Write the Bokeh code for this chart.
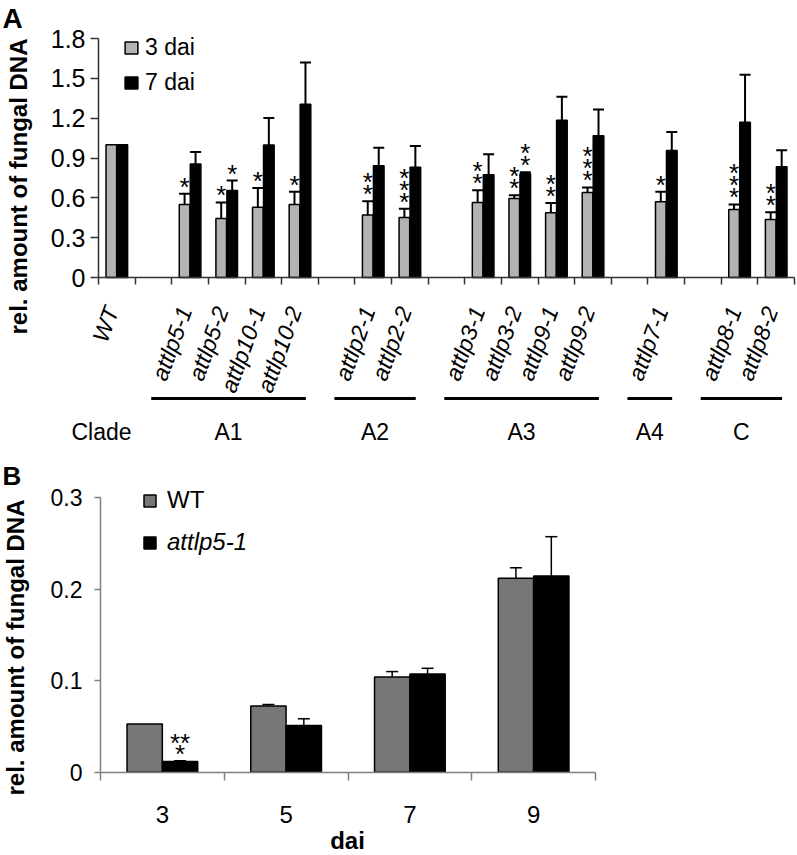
from bokeh.plotting import figure
from bokeh.models import (Range1d, FixedTicker, NumeralTickFormatter, ColumnDataSource,
                          LabelSet, Label, Whisker, TeeHead, Legend, LegendItem)
from bokeh.core.properties import value
from bokeh.layouts import column
from bokeh.embed import file_html
from bokeh.resources import INLINE

FONT = "Liberation Sans"

# ---------------- Panel A data ----------------
strains = ["WT", "attlp5-1", "attlp5-2", "attlp10-1", "attlp10-2", "attlp2-1", "attlp2-2",
           "attlp3-1", "attlp3-2", "attlp9-1", "attlp9-2", "attlp7-1", "attlp8-1", "attlp8-2"]
clade_names = ["A1", "A2", "A3", "A4", "C"]
clade_sizes = [4, 2, 4, 1, 2]
dai3 = [1.00, 0.550, 0.445, 0.530, 0.550, 0.470, 0.452, 0.565, 0.595, 0.487, 0.640, 0.570, 0.512, 0.437]
dai3_err = [0.0, 0.080, 0.120, 0.145, 0.095, 0.105, 0.065, 0.093, 0.025, 0.075, 0.038, 0.075, 0.038, 0.055]
dai7 = [1.00, 0.855, 0.655, 0.997, 1.305, 0.842, 0.830, 0.773, 0.781, 1.185, 1.067, 0.957, 1.170, 0.834]
dai7_err = [0.0, 0.090, 0.075, 0.205, 0.315, 0.135, 0.160, 0.156, 0.012, 0.176, 0.198, 0.138, 0.357, 0.125]
stars3 = [0, 1, 1, 1, 1, 2, 3, 2, 2, 2, 3, 1, 3, 2]
stars7 = [0, 0, 1, 0, 0, 0, 0, 0, 2, 0, 0, 0, 0, 0]
yticks_a = [0, 0.3, 0.6, 0.9, 1.2, 1.5, 1.8]

# ---------------- Panel B data ----------------
days = [3, 5, 7, 9]
wt_b = [0.0528, 0.0723, 0.1040, 0.2120]
wt_b_err = [0.0, 0.0017, 0.0060, 0.0115]
mut_b = [0.0118, 0.0511, 0.1073, 0.2145]
mut_b_err = [0.0008, 0.0073, 0.0063, 0.0430]
stars_b = [3, 0, 0, 0]
yticks_b = [0, 0.1, 0.2, 0.3]

GREY_A = "#b3b3b3"
GREY_B = "#777777"
AXIS_A = "#333333"
AXIS_B = "#808080"
FV = value(FONT)

# slot layout for panel A: WT, then a gap before each clade
slots = [0]
pos = 1
groups = []
for name, n in zip(clade_names, clade_sizes):
    pos += 1
    first = pos
    for k in range(n):
        slots.append(pos)
        pos += 1
    groups.append((name, first, pos - 1))
n_slots = pos
centers = [s + 0.5 for s in slots]

W = 797
HA, HB = 458, 397

# ---- geometry of panel A (frame = whole canvas, axes at fixed locations)
XA0 = 98.0                      # pixel of x = 0
SA = 696.0 / n_slots            # pixels per slot
YA0 = 277.0                     # pixel of y = 0
KA = 239.0 / yticks_a[-1]       # pixels per unit
def ax(px): return (px - XA0) / SA
def ay(py): return (YA0 - py) / KA

pa = figure(width=W, height=HA, x_range=Range1d(ax(0), ax(W)), y_range=Range1d(ay(HA), ay(0)),
            output_backend="svg", toolbar_location=None, title=None,
            min_border_left=0, min_border_right=0, min_border_top=0, min_border_bottom=0)
pa.outline_line_color = None
pa.xgrid.visible = False
pa.ygrid.visible = False

OFF_A, BW_A = 0.15, 0.29
src3 = ColumnDataSource(dict(x=[c - OFF_A for c in centers], top=dai3))
src7 = ColumnDataSource(dict(x=[c + OFF_A for c in centers], top=dai7))
r3 = pa.vbar(x="x", top="top", bottom=0, width=BW_A, source=src3,
             fill_color=GREY_A, line_color="black", line_width=1.5)
r7 = pa.vbar(x="x", top="top", bottom=0, width=BW_A, source=src7,
             fill_color="black", line_color="black", line_width=1.5)

for vals, errs, off in ((dai3, dai3_err, -OFF_A), (dai7, dai7_err, OFF_A)):
    b, lo, up = [], [], []
    for c, v, e in zip(centers, vals, errs):
        if e > 0:
            b.append(c + off); lo.append(v); up.append(v + e)
    pa.add_layout(Whisker(source=ColumnDataSource(dict(base=b, lower=lo, upper=up)), base="base",
                          lower="lower", upper="upper", dimension="height", line_width=2,
                          line_color="black", upper_head=TeeHead(size=11, line_width=2, line_color="black"),
                          lower_head=None, level="annotation"))

sx, sy, so = [], [], []
for vals, errs, stars, off in ((dai3, dai3_err, stars3, -OFF_A), (dai7, dai7_err, stars7, OFF_A)):
    for c, v, e, s in zip(centers, vals, errs, stars):
        for k in range(s):
            sx.append(c + off); sy.append(v + e); so.append(-2 + 12 * k)
pa.add_layout(LabelSet(x="x", y="y", y_offset="o", text="t",
                       source=ColumnDataSource(dict(x=sx, y=sy, o=so, t=["*"] * len(sx))),
                       text_align="center", text_baseline="alphabetic",
                       text_font=FV, text_font_size="26px", text_color="black"))

# axes A (real Bokeh axes placed at the data origin)
pa.yaxis.fixed_location = 0
pa.yaxis.bounds = (0, yticks_a[-1])
pa.yaxis.ticker = FixedTicker(ticks=yticks_a)
pa.yaxis.formatter = NumeralTickFormatter(format="0.[0]")
pa.yaxis.major_tick_out = 8
pa.yaxis.major_tick_in = 0
pa.yaxis.major_label_standoff = 5
pa.yaxis.major_label_text_font = FONT
pa.yaxis.major_label_text_font_size = "25px"
pa.yaxis.major_label_text_color = "black"
pa.xaxis.fixed_location = 0
pa.xaxis.bounds = (0, n_slots)
pa.xaxis.ticker = FixedTicker(ticks=[], minor_ticks=list(range(n_slots + 1)))
pa.xaxis.minor_tick_out = 7
pa.xaxis.minor_tick_in = 0
pa.xaxis.major_tick_out = 0
for a in (pa.xaxis, pa.yaxis):
    a.axis_line_color = AXIS_A
    a.axis_line_width = 1.5
    a.major_tick_line_color = AXIS_A
    a.major_tick_line_width = 1.5
    a.minor_tick_line_color = AXIS_A
    a.minor_tick_line_width = 1.5

pa.add_layout(Label(x=ax(18), y=ay(186), text="rel. amount of fungal DNA", angle=90, angle_units="deg",
                    text_align="center", text_baseline="middle", text_font=FONT, text_font_size="24px",
                    text_font_style="bold", text_color="black"))

# category labels (rotated, italic)
pa.add_layout(LabelSet(x="x", y="y", text="t",
                       source=ColumnDataSource(dict(x=centers, y=[0] * len(centers), t=strains)),
                       angle=70, angle_units="deg", x_offset=-5, y_offset=-30,
                       text_align="right", text_baseline="middle", text_font=FV,
                       text_font_style="italic", text_font_size="23px", text_color="black"))

# clade lines and names
y_line = ay(398)
gx0, gx1, gmid = [], [], []
for name, first, last in groups:
    x0 = first + 0.5 - 1.06
    x1 = last + 0.5 + 0.16
    gx0.append(x0); gx1.append(x1); gmid.append((x0 + x1) / 2)
pa.segment(x0=gx0, y0=[y_line] * len(gx0), x1=gx1, y1=[y_line] * len(gx0), line_width=3, line_color="black")
pa.add_layout(LabelSet(x="x", y="y", text="t",
                       source=ColumnDataSource(dict(x=gmid + [ax(101)], y=[ay(418)] * (len(gmid) + 1),
                                                    t=clade_names + ["Clade"])),
                       text_align="center", text_baseline="top", text_font=FV,
                       text_font_size="23px", text_color="black"))
pa.add_layout(Label(x=ax(2), y=ay(2), text="A", text_align="left", text_baseline="top",
                    text_font=FONT, text_font_size="28px", text_font_style="bold", text_color="black"))

legA = Legend(items=[LegendItem(label="3 dai", renderers=[r3]), LegendItem(label="7 dai", renderers=[r7])],
              location=(123, HA - 96), padding=0, margin=0, spacing=8, glyph_width=16, glyph_height=15,
              label_standoff=6, label_height=27, label_text_font=FONT, label_text_font_size="23px",
              label_text_color="black", border_line_color=None, background_fill_alpha=0)
pa.add_layout(legA)

# ---------------- Panel B ----------------
X_LO = days[0] - 1
XB0 = 100.0
SB = 495.0 / (2 * len(days))
YB0 = 771.7 - HA
KB = 274.4 / yticks_b[-1]
def bx_(px): return X_LO + (px - XB0) / SB
def by_(py): return (YB0 - py) / KB

pb = figure(width=W, height=HB, x_range=Range1d(bx_(0), bx_(W)), y_range=Range1d(by_(HB), by_(0)),
            output_backend="svg", toolbar_location=None, title=None,
            min_border_left=0, min_border_right=0, min_border_top=0, min_border_bottom=0)
pb.outline_line_color = None
pb.xgrid.visible = False
pb.ygrid.visible = False

OFF_B, BW_B = 0.286, 0.57
rw = pb.vbar(x="x", top="top", bottom=0, width=BW_B,
             source=ColumnDataSource(dict(x=[d - OFF_B for d in days], top=wt_b)),
             fill_color=GREY_B, line_color="black", line_width=1.5)
rm = pb.vbar(x="x", top="top", bottom=0, width=BW_B,
             source=ColumnDataSource(dict(x=[d + OFF_B for d in days], top=mut_b)),
             fill_color="black", line_color="black", line_width=1.5)
for vals, errs, off in ((wt_b, wt_b_err, -OFF_B), (mut_b, mut_b_err, OFF_B)):
    b, lo, up = [], [], []
    for d, v, e in zip(days, vals, errs):
        if e > 0:
            b.append(d + off); lo.append(v); up.append(v + e)
    pb.add_layout(Whisker(source=ColumnDataSource(dict(base=b, lower=lo, upper=up)), base="base",
                          lower="lower", upper="upper", dimension="height", line_width=1.5,
                          line_color="black", upper_head=TeeHead(size=12, line_width=1.5, line_color="black"),
                          lower_head=None, level="annotation"))

bxs, bys, bos, bts = [], [], [], []
for d, v, e, s in zip(days, mut_b, mut_b_err, stars_b):
    if s == 3:
        bxs += [d + OFF_B, d + OFF_B]; bys += [v + e, v + e]; bos += [-2, 9]; bts += ["*", "**"]
    elif s > 0:
        bxs.append(d + OFF_B); bys.append(v + e); bos.append(-2); bts.append("*" * s)
pb.add_layout(LabelSet(x="x", y="y", y_offset="o", text="t",
                       source=ColumnDataSource(dict(x=bxs, y=bys, o=bos, t=bts)),
                       text_align="center", text_baseline="alphabetic",
                       text_font=FV, text_font_size="26px", text_color="black"))

pb.yaxis.fixed_location = X_LO
pb.yaxis.bounds = (0, yticks_b[-1])
pb.yaxis.ticker = FixedTicker(ticks=yticks_b)
pb.yaxis.formatter = NumeralTickFormatter(format="0.[0]")
pb.yaxis.major_tick_out = 6
pb.yaxis.major_tick_in = 0
pb.yaxis.major_label_standoff = 12
pb.xaxis.fixed_location = 0
pb.xaxis.bounds = (X_LO, days[-1] + 1)
pb.xaxis.ticker = FixedTicker(ticks=days, minor_ticks=list(range(X_LO, days[-1] + 2, 2)))
pb.xaxis.major_tick_out = 0
pb.xaxis.major_tick_in = 0
pb.xaxis.minor_tick_out = 8
pb.xaxis.minor_tick_in = 0
pb.xaxis.major_label_standoff = 26
for a in (pb.xaxis, pb.yaxis):
    a.axis_line_color = AXIS_B
    a.axis_line_width = 1.5
    a.major_tick_line_color = AXIS_B
    a.major_tick_line_width = 1.5
    a.minor_tick_line_color = AXIS_B
    a.minor_tick_line_width = 1.5
    a.major_label_text_font = FONT
    a.major_label_text_color = "black"
pb.yaxis.major_label_text_font_size = "23px"
pb.xaxis.major_label_text_font_size = "24px"

pb.add_layout(Label(x=bx_(15), y=by_(647 - HA), text="rel. amount of fungal DNA", angle=90,
                    angle_units="deg", text_align="center", text_baseline="middle", text_font=FONT,
                    text_font_size="24px", text_font_style="bold", text_color="black"))
pb.add_layout(Label(x=bx_(347), y=by_(840 - HA), text="dai", text_align="center",
                    text_baseline="middle", text_font=FONT, text_font_size="24px",
                    text_font_style="bold", text_color="black"))
pb.add_layout(Label(x=bx_(2), y=by_(460 - HA), text="B", text_align="left", text_baseline="top",
                    text_font=FONT, text_font_size="26px", text_font_style="bold", text_color="black"))

legB1 = Legend(items=[LegendItem(label="WT", renderers=[rw])], location=(142, HB - (514 - HA)),
               padding=0, margin=0, spacing=0, glyph_width=15, glyph_height=15, label_standoff=10,
               label_height=27, label_text_font=FONT, label_text_font_size="24px",
               label_text_color="black", border_line_color=None, background_fill_alpha=0)
legB2 = Legend(items=[LegendItem(label="attlp5-1", renderers=[rm])], location=(142, HB - (556 - HA)),
               padding=0, margin=0, spacing=0, glyph_width=15, glyph_height=15, label_standoff=10,
               label_height=27, label_text_font=FONT, label_text_font_size="24px",
               label_text_font_style="italic", label_text_color="black",
               border_line_color=None, background_fill_alpha=0)
pb.add_layout(legB1)
pb.add_layout(legB2)

layout = column(pa, pb, spacing=0)
open("out.html", "w").write(file_html(layout, INLINE))
